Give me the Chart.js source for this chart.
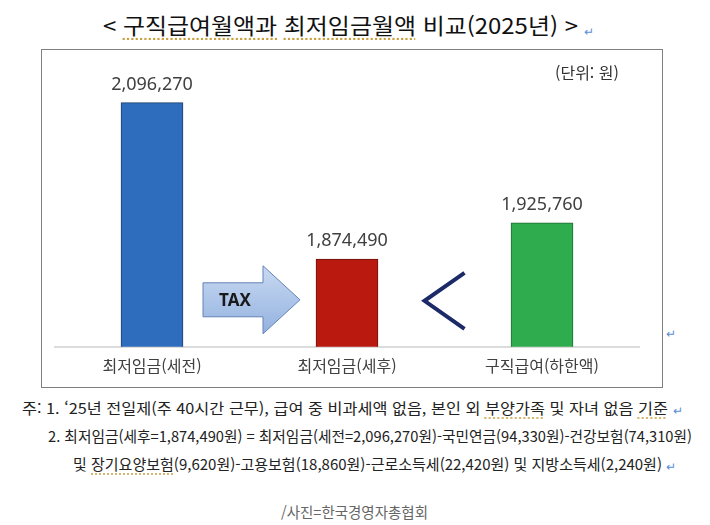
<!DOCTYPE html>
<html lang="ko">
<head>
<meta charset="utf-8">
<title>구직급여월액과 최저임금월액 비교(2025년)</title>
<script src="https://cdn.jsdelivr.net/npm/chart.js@4.4.1/dist/chart.umd.min.js"></script>
<style>
  body{margin:0;background:#fff;font-family:"Noto Sans CJK KR","Noto Sans",sans-serif;color:#1e1e1e;}
  #page{position:relative;width:710px;height:525px;overflow:hidden;}
  .fit{position:absolute;white-space:nowrap;display:inline-block;transform-origin:0 50%;}
  .ret{position:absolute;color:#5b8ed6;font-size:12px;line-height:12px;}
  .sq{text-decoration:underline dotted #c8a040;text-underline-offset:4px;}
  #title{left:103px;top:12px;font-size:22px;line-height:24px;color:#111;}
  #box{position:absolute;left:41px;top:49px;width:620px;height:337px;border:1px solid #7f7f7f;}
  #box canvas{display:block;}
  #unit{position:absolute;left:513px;top:14px;font-size:16px;line-height:17px;color:#333;}
  .note{font-size:15px;line-height:16px;color:#222;}
  #src{left:281px;top:504px;font-size:15px;line-height:16px;color:#666;}
</style>
</head>
<body>
<div id="page">
  <span id="title" class="fit">&lt; <span class="sq">구직급여월액과</span> <span class="sq">최저임금월액</span> 비교(2025년) &gt;</span>
  <span class="ret" style="left:584px;top:25px;">↵</span>

  <div id="box">
    <canvas id="chart" width="620" height="337"></canvas>
    <div id="unit">(단위: 원)</div>
  </div>
  <span class="ret" style="left:666px;top:327px;">↵</span>

  <span id="n1" class="fit note" style="left:22px;top:400px;">주: 1. ‘25년 전일제(주 40시간 근무), 급여 중 비과세액 없음, 본인 외 <span class="sq">부양가족</span> 및 자녀 없음 <span class="sq">기준</span></span>
  <span class="ret" style="left:673px;top:404px;">↵</span>
  <span id="n2" class="fit note" style="left:48px;top:428px;">2. 최저임금(세후=1,874,490원) = 최저임금(세전=2,096,270원)-국민연금(94,330원)-건강보험(74,310원)</span>
  <span id="n3" class="fit note" style="left:73px;top:456px;">및 <span class="sq">장기요양보험</span>(9,620원)-고용보험(18,860원)-근로소득세(22,420원) 및 지방소득세(2,240원)</span>
  <span class="ret" style="left:666px;top:460px;">↵</span>

  <span id="src" class="fit">/사진=한국경영자총협회</span>
</div>

<script>
// values (원)
const categories = ['최저임금(세전)', '최저임금(세후)', '구직급여(하한액)'];
const wages = [2096270, 1874490, 1925760];
const barColors = ['#2e6cbd', '#b9190f', '#2fac4e'];
const barEdges = ['#1f3d66', '#6a120c', '#1e6a34'];
const axisMin = 1750000;
const axisMax = 2100000;

// squeeze the text lines to the widths seen in the picture
function fit(id, w){
  const el = document.getElementById(id);
  const cur = el.getBoundingClientRect().width;
  el.style.transform = 'scaleX(' + (w / cur) + ')';
}
fit('title', 475);
fit('n1', 646);
fit('n2', 644);
fit('n3', 589);
fit('src', 147);

const valueLabels = {
  id: 'valueLabels',
  afterDatasetsDraw(chart){
    const ctx = chart.ctx;
    ctx.save();
    ctx.font = '18px "Noto Sans", sans-serif';
    ctx.fillStyle = '#404040';
    ctx.textAlign = 'center';
    ctx.textBaseline = 'middle';
    chart.getDatasetMeta(0).data.forEach((bar, i) => {
      ctx.fillText(wages[i].toLocaleString('en-US'), bar.x, bar.y - 18);
    });
    ctx.restore();
  }
};

// TAX arrow between the first two bars, "<" between the last two
const extras = {
  id: 'extras',
  afterDatasetsDraw(chart){
    const ctx = chart.ctx;
    const bars = chart.getDatasetMeta(0).data;
    const midY = chart.chartArea.bottom - 47;

    const x0 = bars[0].x + 51, xh = bars[1].x - 84, tip = bars[1].x - 47;
    ctx.save();
    const g = ctx.createLinearGradient(0, midY - 34, 0, midY + 34);
    g.addColorStop(0, '#c9daf2');
    g.addColorStop(1, '#93b1df');
    ctx.beginPath();
    ctx.moveTo(x0, midY - 17);
    ctx.lineTo(xh, midY - 17);
    ctx.lineTo(xh, midY - 34);
    ctx.lineTo(tip, midY);
    ctx.lineTo(xh, midY + 34);
    ctx.lineTo(xh, midY + 17);
    ctx.lineTo(x0, midY + 17);
    ctx.closePath();
    ctx.fillStyle = g;
    ctx.fill();
    ctx.strokeStyle = '#6283b8';
    ctx.lineWidth = 1;
    ctx.stroke();

    ctx.font = 'bold 17px "Noto Sans", sans-serif';
    ctx.fillStyle = '#1a1a1a';
    ctx.textAlign = 'center';
    ctx.textBaseline = 'middle';
    ctx.fillText('TAX', x0 + 32, midY + 1);

    const cx = (bars[1].x + bars[2].x) / 2;
    ctx.beginPath();
    ctx.moveTo(cx + 20, midY - 27);
    ctx.lineTo(cx - 20, midY + 1);
    ctx.lineTo(cx + 20, midY + 29);
    ctx.strokeStyle = '#1c2a68';
    ctx.lineWidth = 4;
    ctx.lineJoin = 'miter';
    ctx.stroke();
    ctx.restore();
  }
};

new Chart(document.getElementById('chart'), {
  type: 'bar',
  data: {
    labels: categories,
    datasets: [{
      data: wages,
      backgroundColor: barColors,
      borderColor: barEdges,
      borderWidth: 1,
      barThickness: 62
    }]
  },
  options: {
    responsive: false,
    animation: false,
    layout: {padding: {left: 12.5, right: 22.5, top: 50, bottom: 1}},
    plugins: {legend: {display: false}, tooltip: {enabled: false}},
    scales: {
      y: {display: false, min: axisMin, max: axisMax},
      x: {
        grid: {display: false, drawTicks: false},
        border: {color: '#dcdcdc', width: 2},
        ticks: {color: '#404040', padding: 10, font: {size: 16, family: '"Noto Sans CJK KR", sans-serif'}}
      }
    }
  },
  plugins: [valueLabels, extras]
});
</script>
</body>
</html>
